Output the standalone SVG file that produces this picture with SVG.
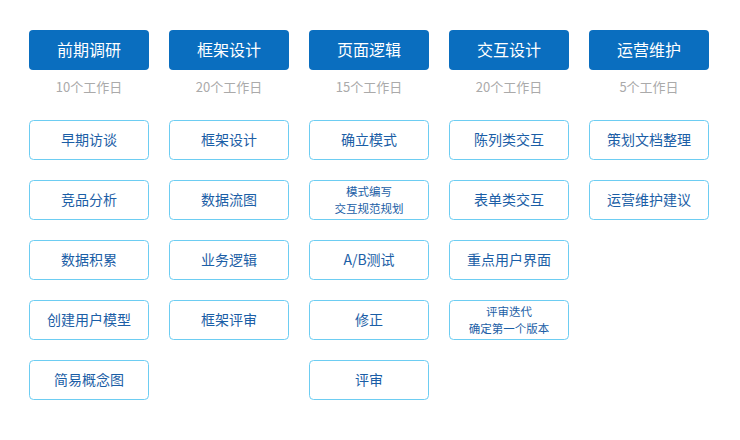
<svg xmlns="http://www.w3.org/2000/svg" width="740" height="440" viewBox="0 0 740 440">
<style>
.h rect{fill:#0a6ebf}
.h text{fill:#fff;font-size:16px}
.d{fill:#aaaaaa;font-size:13px}
.b rect{fill:#fff;stroke:#6dcdf2;stroke-width:1}
.b text{fill:#1b5ea6;font-size:14px}
.b text.s{font-size:11.5px}
text{font-family:"Microsoft YaHei","Noto Sans CJK SC",sans-serif;text-anchor:middle;dominant-baseline:central}
</style>
<rect width="740" height="440" fill="#fff"/>
<g id="h1" class="h"><rect x="29" y="30" width="120" height="40" rx="4"/><text x="89" y="49">前期调研</text></g>
<g id="h2" class="h"><rect x="169" y="30" width="120" height="40" rx="4"/><text x="229" y="49">框架设计</text></g>
<g id="h3" class="h"><rect x="309" y="30" width="120" height="40" rx="4"/><text x="369" y="49">页面逻辑</text></g>
<g id="h4" class="h"><rect x="449" y="30" width="120" height="40" rx="4"/><text x="509" y="49">交互设计</text></g>
<g id="h5" class="h"><rect x="589" y="30" width="120" height="40" rx="4"/><text x="649" y="49">运营维护</text></g>
<text class="d" x="89" y="86">10个工作日</text>
<text class="d" x="229" y="86">20个工作日</text>
<text class="d" x="369" y="86">15个工作日</text>
<text class="d" x="509" y="86">20个工作日</text>
<text class="d" x="649" y="86">5个工作日</text>
<g id="a1" class="b"><rect x="29.5" y="120.5" width="119" height="39" rx="4"/><text x="89" y="138.5">早期访谈</text></g>
<g id="a2" class="b"><rect x="29.5" y="180.5" width="119" height="39" rx="4"/><text x="89" y="198.5">竞品分析</text></g>
<g id="a3" class="b"><rect x="29.5" y="240.5" width="119" height="39" rx="4"/><text x="89" y="258.5">数据积累</text></g>
<g id="a4" class="b"><rect x="29.5" y="300.5" width="119" height="39" rx="4"/><text x="89" y="318.5">创建用户模型</text></g>
<g id="a5" class="b"><rect x="29.5" y="360.5" width="119" height="39" rx="4"/><text x="89" y="378.5">简易概念图</text></g>
<g id="b1" class="b"><rect x="169.5" y="120.5" width="119" height="39" rx="4"/><text x="229" y="138.5">框架设计</text></g>
<g id="b2" class="b"><rect x="169.5" y="180.5" width="119" height="39" rx="4"/><text x="229" y="198.5">数据流图</text></g>
<g id="b3" class="b"><rect x="169.5" y="240.5" width="119" height="39" rx="4"/><text x="229" y="258.5">业务逻辑</text></g>
<g id="b4" class="b"><rect x="169.5" y="300.5" width="119" height="39" rx="4"/><text x="229" y="318.5">框架评审</text></g>
<g id="c1" class="b"><rect x="309.5" y="120.5" width="119" height="39" rx="4"/><text x="369" y="138.5">确立模式</text></g>
<g id="c2" class="b"><rect x="309.5" y="180.5" width="119" height="39" rx="4"/><text class="s" x="369" y="191"><tspan x="369">模式编写</tspan><tspan x="369" dy="16.5">交互规范规划</tspan></text></g>
<g id="c3" class="b"><rect x="309.5" y="240.5" width="119" height="39" rx="4"/><text x="369" y="258.5">A/B测试</text></g>
<g id="c4" class="b"><rect x="309.5" y="300.5" width="119" height="39" rx="4"/><text x="369" y="318.5">修正</text></g>
<g id="c5" class="b"><rect x="309.5" y="360.5" width="119" height="39" rx="4"/><text x="369" y="378.5">评审</text></g>
<g id="d1" class="b"><rect x="449.5" y="120.5" width="119" height="39" rx="4"/><text x="509" y="138.5">陈列类交互</text></g>
<g id="d2" class="b"><rect x="449.5" y="180.5" width="119" height="39" rx="4"/><text x="509" y="198.5">表单类交互</text></g>
<g id="d3" class="b"><rect x="449.5" y="240.5" width="119" height="39" rx="4"/><text x="509" y="258.5">重点用户界面</text></g>
<g id="d4" class="b"><rect x="449.5" y="300.5" width="119" height="39" rx="4"/><text class="s" x="509" y="311"><tspan x="509">评审迭代</tspan><tspan x="509" dy="16.5">确定第一个版本</tspan></text></g>
<g id="e1" class="b"><rect x="589.5" y="120.5" width="119" height="39" rx="4"/><text x="649" y="138.5">策划文档整理</text></g>
<g id="e2" class="b"><rect x="589.5" y="180.5" width="119" height="39" rx="4"/><text x="649" y="198.5">运营维护建议</text></g>
<g id="connectors"></g>
</svg>
